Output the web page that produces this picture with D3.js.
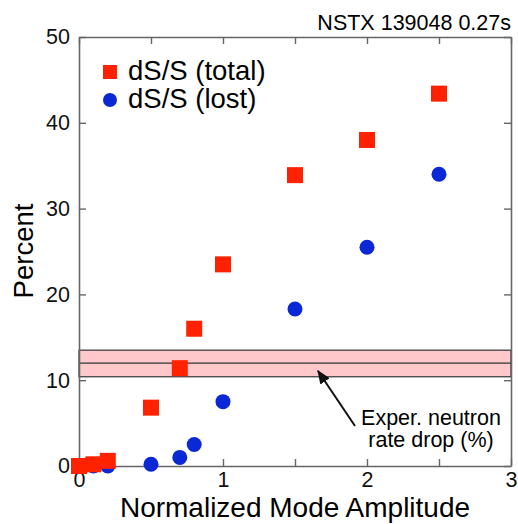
<!DOCTYPE html>
<html>
<head>
<meta charset="utf-8">
<script src="https://cdn.jsdelivr.net/npm/d3@7"></script>
<style>
  body { margin: 0; background: #fff; }
  svg text { font-family: "Liberation Sans", Arial, sans-serif; }
</style>
</head>
<body>
<svg width="518" height="524"></svg>
<script>
// amplitude values and the two series
var amplitude = [0, 0.1, 0.2, 0.5, 0.7, 0.8, 1.0, 1.5, 2.0, 2.5];
var totalLoss = [0, 0.2, 0.6, 6.8, 11.4, 16.0, 23.5, 33.9, 38.0, 43.4];
var lostLoss  = [0, 0, 0, 0.2, 1.0, 2.5, 7.5, 18.3, 25.5, 34.0];
var xTicks = [0, 1, 2, 3];
var yTicks = [0, 10, 20, 30, 40, 50];
var band = [10.4, 12, 13.5]; // low, mid, high of neutron rate drop

const svg = d3.select("svg");
const mLeft = 79, mRight = 511, mTop = 37, mBottom = 466;

const x = d3.scaleLinear().domain([0, 3]).range([mLeft, mRight]);
const y = d3.scaleLinear().domain([0, 50]).range([mBottom, mTop]);

// band
svg.append("rect")
  .attr("x", x(0)).attr("width", x(3) - x(0))
  .attr("y", y(band[2])).attr("height", y(band[0]) - y(band[2]))
  .attr("fill", "#ffc9cb")
  .attr("stroke", "#333").attr("stroke-width", 1.2);
svg.append("line")
  .attr("x1", x(0)).attr("x2", x(3))
  .attr("y1", y(band[1])).attr("y2", y(band[1]))
  .attr("stroke", "#333").attr("stroke-width", 1.2);

// axes, ticks inward
const frame = "#666";
function styleAxis(g) {
  g.select(".domain").attr("stroke", frame).attr("stroke-width", 1.6);
  g.selectAll(".tick line").attr("stroke", frame).attr("stroke-width", 1.4);
  g.selectAll(".tick text").attr("font-size", 21.5).attr("fill", "#111")
    .attr("font-family", "Liberation Sans, Arial, sans-serif");
}
svg.append("g").attr("transform", `translate(0,${mBottom})`)
  .call(d3.axisBottom(x).tickValues(d3.range(0, 3.01, 0.5)).tickSizeInner(-7).tickSizeOuter(0)
    .tickPadding(6).tickFormat(d => xTicks.includes(d) ? d : ""))
  .call(styleAxis);
svg.append("g").attr("transform", `translate(0,${mTop})`)
  .call(d3.axisTop(x).tickValues(d3.range(0, 3.01, 0.5)).tickSizeInner(-7).tickSizeOuter(0).tickFormat(""))
  .call(styleAxis);
svg.append("g").attr("transform", `translate(${mLeft},0)`)
  .call(d3.axisLeft(y).tickValues(yTicks).tickSizeInner(-7).tickSizeOuter(0).tickPadding(9))
  .call(styleAxis);
svg.append("g").attr("transform", `translate(${mRight},0)`)
  .call(d3.axisRight(y).tickValues(yTicks).tickSizeInner(-7).tickSizeOuter(0).tickFormat(""))
  .call(styleAxis);

// points
const lostPts = amplitude.map((a, i) => ({a: a, v: lostLoss[i]}));
const totalPts = amplitude.map((a, i) => ({a: a, v: totalLoss[i]}));
svg.selectAll("circle.lost").data(lostPts).enter().append("circle")
  .attr("cx", d => x(d.a)).attr("cy", d => y(d.v)).attr("r", 7.5)
  .attr("fill", "#0a28d6");
const s = 16;
svg.selectAll("rect.total").data(totalPts).enter().append("rect")
  .attr("x", d => x(d.a) - s / 2).attr("y", d => y(d.v) - s / 2)
  .attr("width", s).attr("height", s)
  .attr("fill", "#ff2200");

// legend
svg.append("rect").attr("x", 103).attr("y", 65).attr("width", 14).attr("height", 14).attr("fill", "#ff2200");
svg.append("text").text("dS/S (total)").attr("x", 128).attr("y", 80).attr("font-size", 27.5);
svg.append("circle").attr("cx", 110).attr("cy", 100).attr("r", 7).attr("fill", "#0a28d6");
svg.append("text").text("dS/S (lost)").attr("x", 128).attr("y", 108).attr("font-size", 27.5);

// title
svg.append("text").text("NSTX 139048 0.27s")
  .attr("x", 511).attr("y", 30).attr("text-anchor", "end").attr("font-size", 21.5);

// axis labels
svg.append("text").text("Normalized Mode Amplitude")
  .attr("x", 295).attr("y", 517).attr("text-anchor", "middle").attr("font-size", 28);
svg.append("text").text("Percent")
  .attr("transform", "translate(33,251) rotate(-90)")
  .attr("text-anchor", "middle").attr("font-size", 27.5);

// annotation
svg.append("defs").append("marker")
  .attr("id", "ah").attr("viewBox", "0 0 10 10").attr("refX", 9).attr("refY", 5)
  .attr("markerWidth", 7).attr("markerHeight", 7).attr("orient", "auto")
  .append("path").attr("d", "M0,1 L10,5 L0,9 z").attr("fill", "#111");
svg.append("line")
  .attr("x1", 355).attr("y1", 426).attr("x2", 318).attr("y2", 371)
  .attr("stroke", "#111").attr("stroke-width", 2).attr("marker-end", "url(#ah)");
svg.append("text").text("Exper. neutron")
  .attr("x", 431).attr("y", 425).attr("text-anchor", "middle").attr("font-size", 21.5);
svg.append("text").text("rate drop (%)")
  .attr("x", 431).attr("y", 447).attr("text-anchor", "middle").attr("font-size", 21.5);
</script>
</body>
</html>
